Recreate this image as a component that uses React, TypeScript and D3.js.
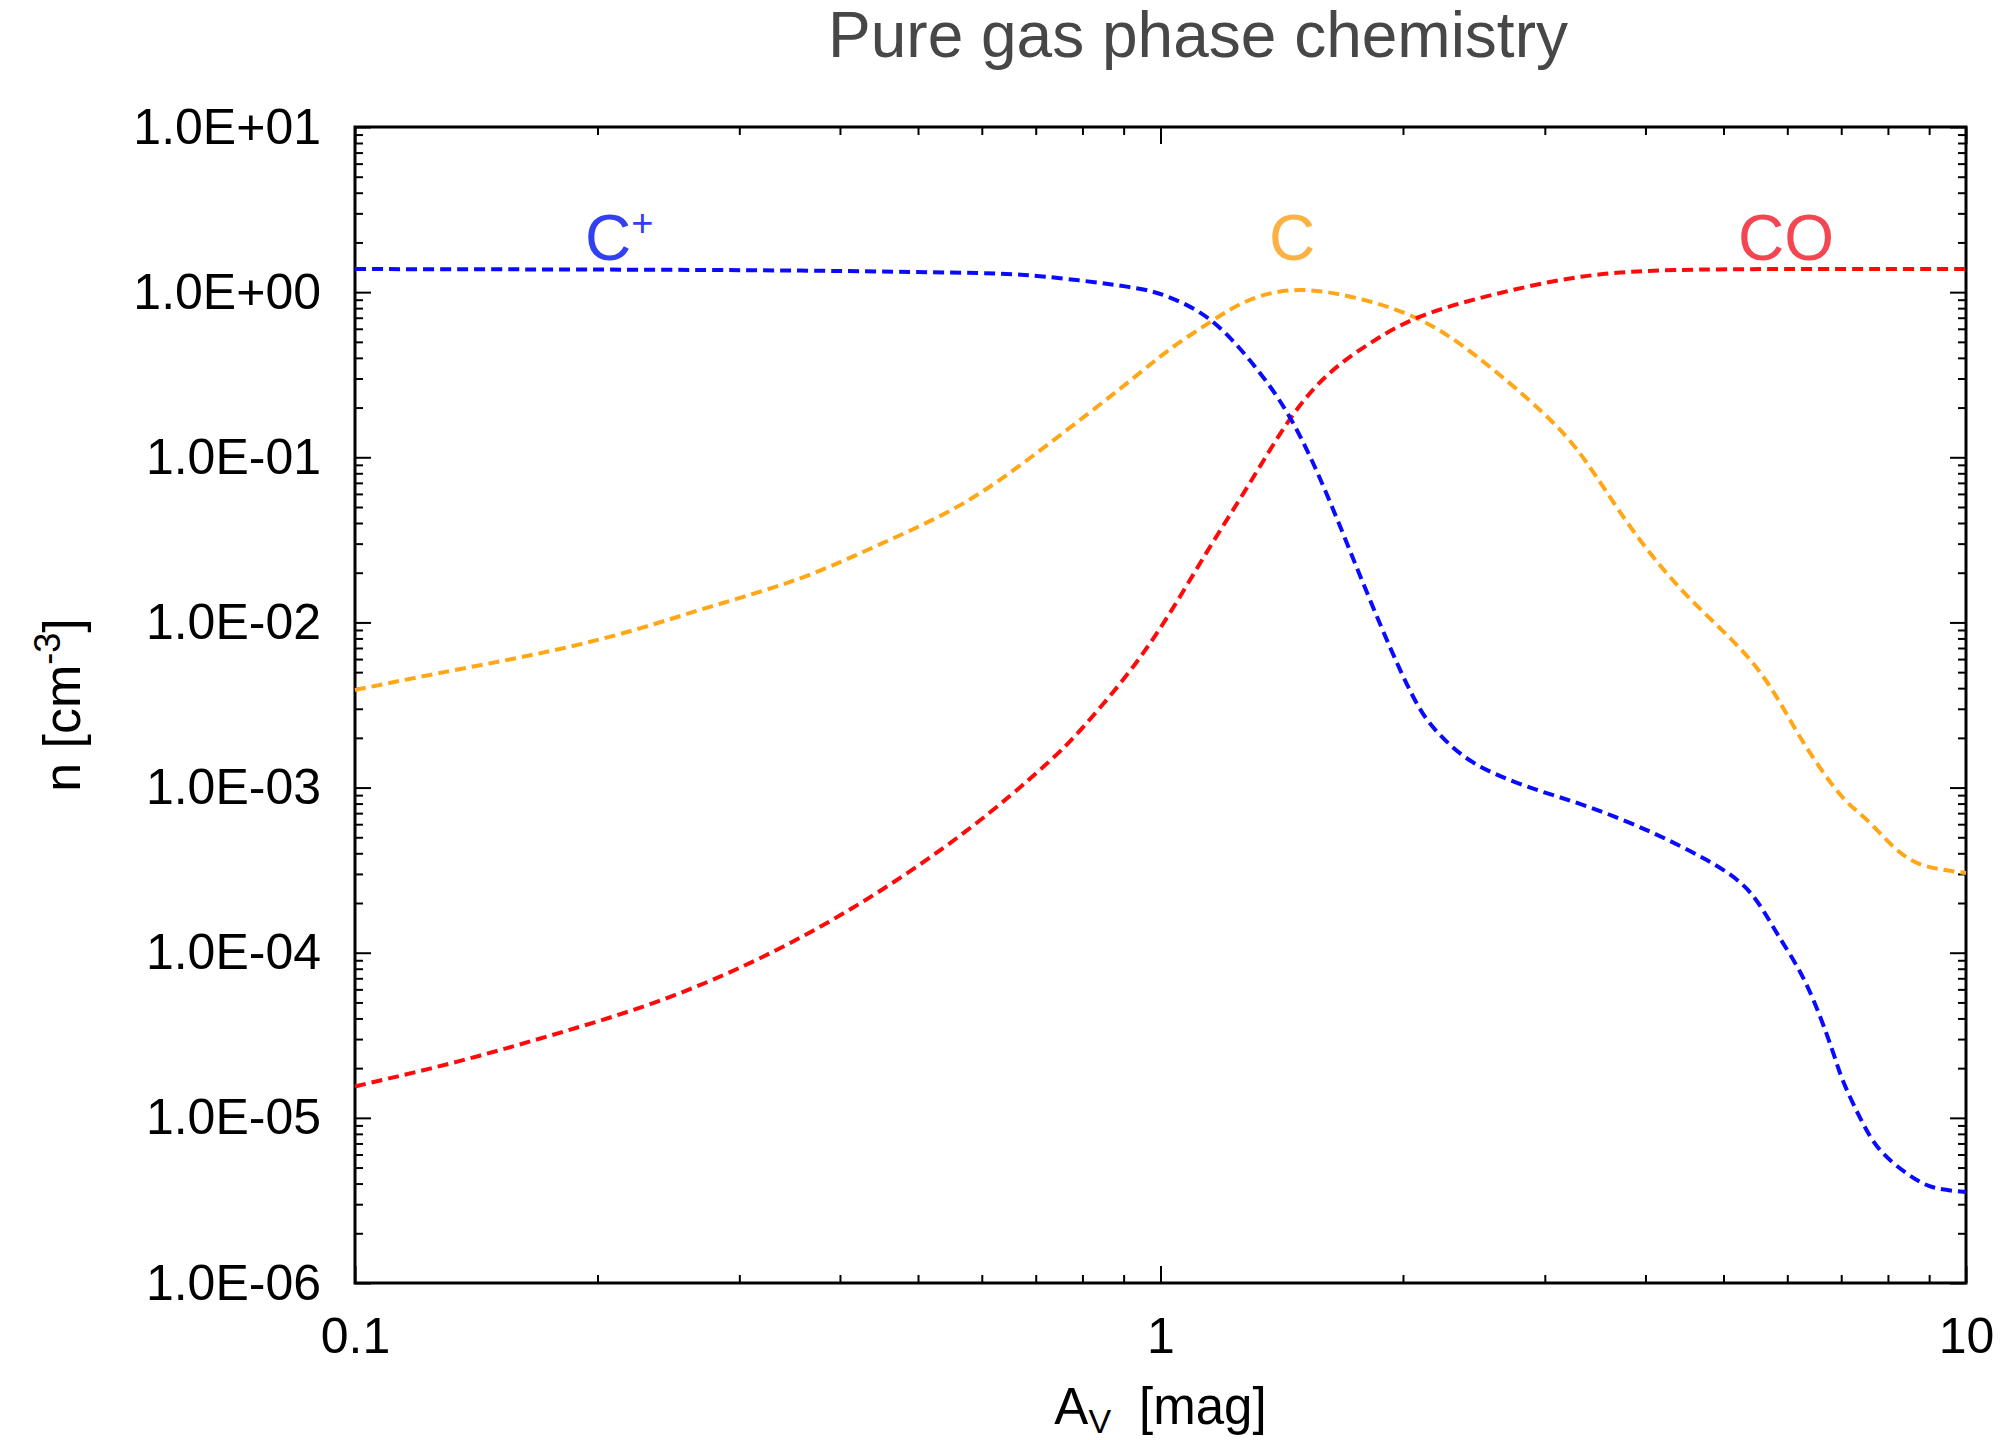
import { useEffect, useRef } from "react";
import * as d3 from "d3";

// C+ (blue)
const cplusAv = [0.1, 0.2, 0.357, 0.569, 0.719, 0.908, 1.02, 1.146, 1.29, 1.45, 1.62, 1.82, 2.05, 2.22, 2.45, 2.86, 3.41, 4.09, 4.76, 5.36, 5.82, 6.33, 6.8, 7.03, 7.38, 7.82, 8.45, 9.1, 10];
const cplusN = [1.38, 1.37, 1.35, 1.31, 1.24, 1.08, 0.94, 0.695, 0.388, 0.172, 0.055, 0.0137, 3.7e-3, 2.1e-3, 1.41e-3, 1.01e-3, 7.6e-4, 5.3e-4, 3.65e-4, 2.4e-4, 1.32e-4, 6.5e-5, 2.7e-5, 1.69e-5, 1.01e-5, 6.4e-6, 4.6e-6, 3.8e-6, 3.56e-6];

// C (orange)
const cAv = [0.1, 0.129, 0.167, 0.215, 0.277, 0.357, 0.451, 0.569, 0.719, 0.908, 1.02, 1.146, 1.29, 1.5, 1.8, 2.1, 2.45, 2.97, 3.37, 3.83, 4.52, 5.45, 6.18, 6.95, 7.5, 8.12, 8.69, 9.3, 10];
const cN = [3.9e-3, 5.0e-3, 6.4e-3, 8.6e-3, 0.0125, 0.0185, 0.0301, 0.0526, 0.116, 0.28, 0.44, 0.647, 0.896, 1.03, 0.89, 0.68, 0.42, 0.19, 0.095, 0.038, 0.0143, 5.6e-3, 2.14e-3, 9.3e-4, 6.5e-4, 4.4e-4, 3.5e-4, 3.2e-4, 3.04e-4];

// CO (red)
const coAv = [0.1, 0.134, 0.179, 0.24, 0.321, 0.43, 0.575, 0.716, 0.8, 0.908, 1.02, 1.146, 1.29, 1.45, 1.62, 1.82, 2.1, 2.61, 3.37, 4.35, 6.0, 10];
const coN = [1.55e-5, 2.19e-5, 3.26e-5, 5.16e-5, 9.46e-5, 2.08e-4, 5.5e-4, 1.34e-3, 2.3e-3, 4.8e-3, 0.0108, 0.0275, 0.0695, 0.172, 0.322, 0.49, 0.71, 0.975, 1.25, 1.36, 1.38, 1.38];

const xTicks = [0.1, 1, 10];
const xTickLabels = ["0.1", "1", "10"];
const yTicks = [1e-6, 1e-5, 1e-4, 1e-3, 1e-2, 1e-1, 1, 10];
const yTickLabels = ["1.0E-06", "1.0E-05", "1.0E-04", "1.0E-03", "1.0E-02", "1.0E-01", "1.0E+00", "1.0E+01"];

const W = 2012;
const H = 1440;
const FONT = "'Liberation Sans', Arial, Helvetica, sans-serif";

export default function App() {
    const ref = useRef<SVGSVGElement>(null);

    useEffect(() => {
        const svg = d3.select(ref.current);
        svg.selectAll("*").remove();

        const left = 355, right = 1966, top = 127, bottom = 1283;

        const x = d3.scaleLog().domain([0.1, 10]).range([left, right]);
        const y = d3.scaleLog().domain([1e-6, 10]).range([bottom, top]);

        // minor ticks 2..9 in each decade
        const xMinor = x.ticks().filter(v => !xTicks.some(t => Math.abs(t - v) / t < 1e-6));
        const yMinor = y.ticks().filter(v => !yTicks.some(t => Math.abs(t - v) / t < 1e-6));

        svg.append("rect").attr("width", W).attr("height", H).attr("fill", "#fff");

        const styleAxis = (g: any) => {
            g.select(".domain").remove();
            g.selectAll("line").attr("stroke", "#000").attr("stroke-width", 2);
            g.attr("font-family", FONT).attr("font-size", 50);
            g.selectAll("text").attr("fill", "#000");
        };

        const xLabel = (d: any) => xTickLabels[xTicks.indexOf(d)];
        const yLabel = (d: any) => yTickLabels[yTicks.indexOf(d)];

        // bottom
        svg.append("g").attr("transform", `translate(0,${bottom})`)
            .call(d3.axisBottom(x).tickValues(xTicks).tickSize(-17).tickPadding(34).tickFormat(xLabel))
            .call(styleAxis);
        svg.append("g").attr("transform", `translate(0,${bottom})`)
            .call(d3.axisBottom(x).tickValues(xMinor).tickSize(-8).tickFormat(() => ""))
            .call(styleAxis);
        // top
        svg.append("g").attr("transform", `translate(0,${top})`)
            .call(d3.axisTop(x).tickValues(xTicks).tickSize(-17).tickFormat(() => ""))
            .call(styleAxis);
        svg.append("g").attr("transform", `translate(0,${top})`)
            .call(d3.axisTop(x).tickValues(xMinor).tickSize(-8).tickFormat(() => ""))
            .call(styleAxis);
        // left
        svg.append("g").attr("transform", `translate(${left},0)`)
            .call(d3.axisLeft(y).tickValues(yTicks).tickSize(-16).tickPadding(34).tickFormat(yLabel))
            .call(styleAxis);
        svg.append("g").attr("transform", `translate(${left},0)`)
            .call(d3.axisLeft(y).tickValues(yMinor).tickSize(-8).tickFormat(() => ""))
            .call(styleAxis);
        // right
        svg.append("g").attr("transform", `translate(${right},0)`)
            .call(d3.axisRight(y).tickValues(yTicks).tickSize(-16).tickFormat(() => ""))
            .call(styleAxis);
        svg.append("g").attr("transform", `translate(${right},0)`)
            .call(d3.axisRight(y).tickValues(yMinor).tickSize(-8).tickFormat(() => ""))
            .call(styleAxis);

        // frame
        svg.append("rect")
            .attr("x", left).attr("y", top)
            .attr("width", right - left).attr("height", bottom - top)
            .attr("fill", "none").attr("stroke", "#000").attr("stroke-width", 3);

        // curves (natural spline in screen space keeps them smooth)
        const line = d3.line<[number, number]>()
            .x(d => x(d[0]))
            .y(d => y(d[1]))
            .curve(d3.curveNatural);

        const series = [
            {av: cAv, n: cN, color: "#ffa716"},
            {av: coAv, n: coN, color: "#ff0a0a"},
            {av: cplusAv, n: cplusN, color: "#0a0aff"},
        ];

        svg.append("g")
            .selectAll("path")
            .data(series)
            .join("path")
            .attr("d", s => line(s.av.map((v, i) => [v, s.n[i]] as [number, number])))
            .attr("fill", "none")
            .attr("stroke", s => s.color)
            .attr("stroke-width", 4)
            .attr("stroke-dasharray", "11,6");

        // series labels
        const labels = svg.append("g").attr("font-family", FONT).attr("font-size", 64);
        const cp = labels.append("text").attr("x", 585).attr("y", 260).attr("fill", "#3040f2");
        cp.append("tspan").text("C");
        cp.append("tspan").attr("font-size", 38).attr("dy", -24).text("+");
        labels.append("text").attr("x", 1269).attr("y", 260).attr("fill", "#fcb143").text("C");
        labels.append("text").attr("x", 1738).attr("y", 260).attr("fill", "#f44650").text("CO");

        // title
        svg.append("text")
            .attr("x", 1198).attr("y", 57)
            .attr("text-anchor", "middle")
            .attr("font-family", FONT).attr("font-size", 64)
            .attr("fill", "#474747")
            .text("Pure gas phase chemistry");

        // x axis title
        const xt = svg.append("text")
            .attr("x", (left + right) / 2).attr("y", 1424)
            .attr("text-anchor", "middle")
            .attr("font-family", FONT).attr("font-size", 51)
            .attr("fill", "#000");
        xt.append("tspan").text("A");
        xt.append("tspan").attr("font-size", 34).attr("dy", 9).text("V");
        xt.append("tspan").attr("dy", -9).attr("dx", 28).text("[mag]");

        // y axis title
        const yt = svg.append("text")
            .attr("transform", `translate(80,${(top + bottom) / 2}) rotate(-90)`)
            .attr("text-anchor", "middle")
            .attr("font-family", FONT).attr("font-size", 52)
            .attr("fill", "#000");
        yt.append("tspan").text("n [cm");
        yt.append("tspan").attr("font-size", 36).attr("dy", -20).text("-3");
        yt.append("tspan").attr("dy", 20).text("]");
    }, []);

    return <svg ref={ref} width={W} height={H}
                style={{position: "absolute", left: 0, top: 0, display: "block"}}/>;
}
